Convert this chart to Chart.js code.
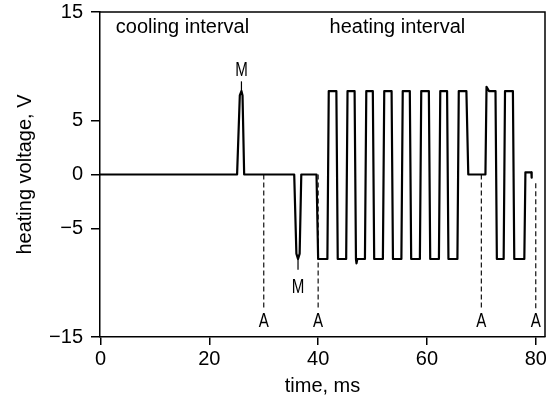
<!DOCTYPE html>
<html>
<head>
<meta charset="utf-8">
<script src="https://cdn.jsdelivr.net/npm/chart.js@4.4.1/dist/chart.umd.min.js"></script>
<style>
html,body{margin:0;padding:0;background:#fff;}
#wrap{position:relative;width:546px;height:400px;}
</style>
</head>
<body>
<div id="wrap"><canvas id="c"></canvas></div>
<script>
// ---- data ----
const traceTime = [0, 25.1, 25.6, 25.9, 26.1, 26.4, 35.6, 36.0, 36.3, 36.6, 36.9, 39.7, 40.0,
  41.7, 41.95, 43.35, 43.6, 45.15, 45.4, 46.7, 46.95, 47.05, 47.2, 48.6, 48.85, 50.05, 50.3,
  51.9, 52.15, 53.5, 53.75, 55.3, 55.55, 56.85, 57.1, 58.7, 58.95, 60.35, 60.6, 62.2, 62.45,
  63.7, 63.95, 65.6, 65.85, 67.25, 67.6, 70.75, 70.95, 71.4, 72.6, 72.85, 74.1, 74.35, 75.8,
  76.05, 77.9, 78.1, 79.2, 79.25];
const traceVolt = [0, 0, 7.3, 7.7, 7.3, 0, 0, -7.3, -7.8, -7.3, 0, 0, -7.8,
  -7.8, 7.7, 7.7, -7.8, -7.8, 7.7, 7.7, -7.8, -8.2, -7.8, -7.8, 7.7, 7.7, -7.8,
  -7.8, 7.7, 7.7, -7.8, -7.8, 7.7, 7.7, -7.8, -7.8, 7.7, 7.7, -7.8, -7.8, 7.7,
  7.7, -7.8, -7.8, 7.7, 7.7, 0, 0, 8.1, 7.7, 7.7, -7.8, -7.8, 7.7, 7.7,
  -7.8, -7.8, 0.2, 0.2, -0.3];
const markerTimes = [30, 40, 70, 80];
const markerTop = [0, 0, 0, -0.8];
const markerBottom = [-12.5, -12.5, -12.5, -12.5];
const markerLabels = ['A', 'A', 'A', 'A'];
const peakTimes = [25.9, 36.3];
const peakVolts = [7.7, -7.8];
const peakTickEnds = [8.6, -8.8];
const peakLabels = ['M', 'M'];
const xTicks = [0, 20, 40, 60, 80];
const yTicks = [-15, -5, 0, 5, 15];
const intervalLabels = ['cooling interval', 'heating interval'];
const intervalStarts = [2.8, 42.1];

// ---- datasets ----
const datasets = [];
datasets.push({
  data: traceTime.map((t, i) => ({x: t, y: traceVolt[i]})),
  showLine: true, borderColor: '#000', borderWidth: 2.2, pointRadius: 0,
  tension: 0, borderJoinStyle: 'round', borderCapStyle: 'round'
});
markerTimes.forEach((t, i) => {
  datasets.push({
    data: [{x: t, y: markerTop[i]}, {x: t, y: markerBottom[i]}],
    showLine: true, borderColor: '#111', borderWidth: 1.2, borderDash: [5, 3], pointRadius: 0
  });
});
peakTimes.forEach((t, i) => {
  datasets.push({
    data: [{x: t, y: peakVolts[i]}, {x: t, y: peakTickEnds[i]}],
    showLine: true, borderColor: '#000', borderWidth: 1.2, pointRadius: 0
  });
});

const FONT = "'Liberation Sans', Arial, Helvetica, sans-serif";

const annot = {
  id: 'annot',
  afterDraw(chart) {
    const {ctx, chartArea: a, scales: {x, y}} = chart;
    ctx.save();
    // frame top & right
    ctx.strokeStyle = '#000';
    ctx.lineWidth = 1.5;
    ctx.beginPath();
    ctx.moveTo(a.left, a.top);
    ctx.lineTo(a.right, a.top);
    ctx.lineTo(a.right, a.bottom);
    ctx.stroke();
    // interval headings
    ctx.fillStyle = '#000';
    ctx.font = '20px ' + FONT;
    ctx.textAlign = 'left';
    ctx.textBaseline = 'alphabetic';
    intervalLabels.forEach((s, i) => {
      ctx.fillText(s, x.getPixelForValue(intervalStarts[i]), y.getPixelForValue(13.1));
    });
    // narrow letters M / A
    const narrow = (s, px, py) => {
      ctx.save();
      ctx.translate(px, py);
      ctx.scale(0.72, 1);
      ctx.font = '21px ' + FONT;
      ctx.textAlign = 'center';
      ctx.textBaseline = 'middle';
      ctx.fillText(s, 0, 0);
      ctx.restore();
    };
    narrow(peakLabels[0], x.getPixelForValue(peakTimes[0]), y.getPixelForValue(9.6));
    narrow(peakLabels[1], x.getPixelForValue(peakTimes[1]), y.getPixelForValue(-10.4));
    markerTimes.forEach((t, i) => {
      narrow(markerLabels[i], x.getPixelForValue(t), y.getPixelForValue(-13.5));
    });
    ctx.restore();
  }
};

new Chart(document.getElementById('c'), {
  type: 'scatter',
  data: {datasets},
  options: {
    responsive: true, maintainAspectRatio: false, animation: false,
    layout: {padding: {top: 12, right: 1, left: 0, bottom: 0}},
    plugins: {legend: {display: false}, tooltip: {enabled: false}},
    scales: {
      x: {
        type: 'linear', min: -0.1, max: 81.7,
        afterBuildTicks: s => { s.ticks = xTicks.map(v => ({value: v})); },
        afterFit: s => { s.height = 63; s.paddingLeft = 0; s.paddingRight = 0; },
        grid: {display: true, drawOnChartArea: false, tickLength: 8, color: '#000', lineWidth: 1.5},
        border: {display: true, color: '#000', width: 1.5},
        ticks: {color: '#000', font: {family: FONT, size: 20}, padding: 2, maxRotation: 0, autoSkip: false},
        title: {display: true, text: 'time, ms', color: '#000', font: {family: FONT, size: 20}, padding: {top: 0, bottom: 2}}
      },
      y: {
        type: 'linear', min: -15, max: 15,
        afterBuildTicks: s => { s.ticks = yTicks.map(v => ({value: v})); },
        afterFit: s => { s.width = 100; s.paddingTop = 0; s.paddingBottom = 0; },
        grid: {display: true, drawOnChartArea: false, tickLength: 9, color: '#000', lineWidth: 1.5},
        border: {display: true, color: '#000', width: 1.5},
        ticks: {color: '#000', font: {family: FONT, size: 20}, padding: 8,
          callback: v => (v < 0 ? '\u2212' + Math.abs(v) : String(v))},
        title: {display: true, text: 'heating voltage, V', color: '#000', font: {family: FONT, size: 20}, padding: {top: 13, bottom: 0}}
      }
    }
  },
  plugins: [annot]
});
</script>
</body>
</html>
